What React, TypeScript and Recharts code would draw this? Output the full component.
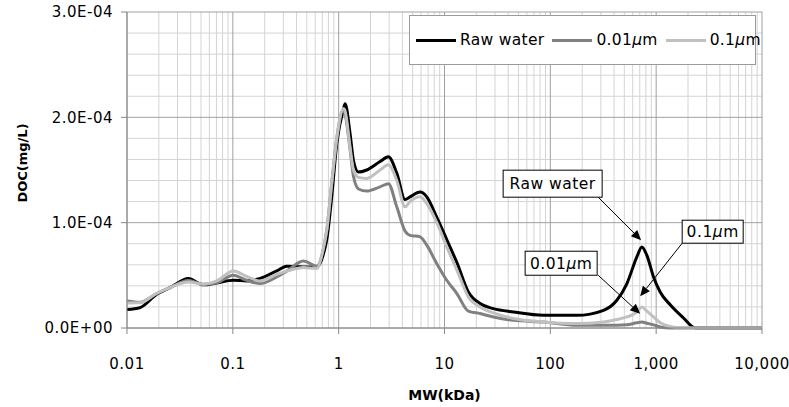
import React from "react";
import {
  LineChart,
  Line,
  XAxis,
  YAxis,
  CartesianGrid,
  Legend,
  ReferenceLine,
} from "recharts";

// Molecular weight (kDa) sample points
const mw = [
  0.01, 0.0133, 0.0191, 0.0255, 0.038, 0.0526, 0.0704, 0.101, 0.135, 0.181,
  0.26, 0.323, 0.464, 0.621, 0.717, 0.772, 0.861, 0.959, 1.11, 1.15, 1.28,
  1.38, 1.54, 1.84, 2.46, 2.95, 3.54, 4.24, 4.73, 5.88, 6.8, 8.46, 10.5, 13.1,
  16.8, 21.7, 29, 44.8, 86, 178, 318, 425, 528, 657, 733, 817, 944, 1091, 1357,
  1812, 2340, 3000, 5000, 10000,
];

// DOC (mg/L)
const rawWater = [
  1.75e-5, 1.94e-5, 3.2e-5, 3.84e-5, 4.7e-5, 4.1e-5, 4.28e-5, 4.53e-5, 4.47e-5,
  4.7e-5, 5.42e-5, 5.87e-5, 5.8e-5, 5.8e-5, 7.0e-5, 8.4e-5, 1.25e-4, 1.75e-4,
  2.08e-4, 2.13e-4, 1.85e-4, 1.59e-4, 1.48e-4, 1.5e-4, 1.58e-4, 1.625e-4,
  1.47e-4, 1.22e-4, 1.245e-4, 1.29e-4, 1.245e-4, 1.05e-4, 8.4e-5, 6.2e-5,
  3.42e-5, 2.32e-5, 1.84e-5, 1.52e-5, 1.2e-5, 1.2e-5, 1.68e-5, 2.63e-5, 4.2e-5,
  6.75e-5, 7.7e-5, 6.9e-5, 4.85e-5, 3.42e-5, 2.2e-5, 9.5e-6, 0, 0, 0, 0,
];

const filtered001 = [
  2.57e-5, 2.45e-5, 3.27e-5, 3.84e-5, 4.5e-5, 4.15e-5, 4.3e-5, 5.0e-5, 4.53e-5,
  4.22e-5, 4.85e-5, 5.4e-5, 6.37e-5, 5.87e-5, 7.5e-5, 9.3e-5, 1.38e-4, 1.8e-4,
  2.07e-4, 2.03e-4, 1.7e-4, 1.44e-4, 1.32e-4, 1.3e-4, 1.34e-4, 1.37e-4,
  1.15e-4, 9.2e-5, 8.8e-5, 8.65e-5, 7.86e-5, 6.1e-5, 4.53e-5, 3.27e-5, 1.6e-5,
  1.37e-5, 1.05e-5, 7.3e-6, 5.7e-6, 2.6e-6, 2.6e-6, 2.6e-6, 3.0e-6, 5.0e-6,
  5.7e-6, 4.5e-6, 3.0e-6, 1.0e-6, 0, 0, 0, 0, 0, 0,
];

const filtered01 = [
  2.38e-5, 2.4e-5, 3.3e-5, 3.84e-5, 4.37e-5, 4.15e-5, 4.47e-5, 5.42e-5, 4.9e-5,
  4.47e-5, 5.1e-5, 5.4e-5, 5.74e-5, 5.65e-5, 7.6e-5, 9.3e-5, 1.38e-4, 1.8e-4,
  2.085e-4, 2.06e-4, 1.72e-4, 1.5e-4, 1.43e-4, 1.42e-4, 1.5e-4, 1.55e-4,
  1.4e-4, 1.15e-4, 1.2e-4, 1.245e-4, 1.18e-4, 1.0e-4, 7.7e-5, 5.5e-5, 2.95e-5,
  2.0e-5, 1.43e-5, 9.0e-6, 5.7e-6, 4.2e-6, 5.7e-6, 8.0e-6, 1.05e-5, 1.5e-5,
  2.0e-5, 1.6e-5, 1.05e-5, 5.0e-6, 1.5e-6, 0, 0, 0, 0, 0,
];

const seriesNames = ["Raw water", "0.01μm", "0.1μm"];

const xTicks = [0.01, 0.1, 1, 10, 100, 1000, 10000];
const yTicks = [0, 1e-4, 2e-4, 3e-4];
const yMinor = [
  2e-5, 4e-5, 6e-5, 8e-5, 1.2e-4, 1.4e-4, 1.6e-4, 1.8e-4, 2.2e-4, 2.4e-4,
  2.6e-4, 2.8e-4,
];

// callouts: text, arrow tail (mw, doc), arrow head (mw, doc)
const calloutText = ["Raw water", "0.01μm", "0.1μm"];
const calloutTail = [
  [283, 1.242e-4],
  [283, 5.01e-5],
  [1761, 8.05e-5],
];
const calloutHead = [
  [721, 8.34e-5],
  [706, 1.35e-5],
  [706, 3.01e-5],
];

const data = mw.map((m, i) => ({
  mw: m,
  raw: rawWater[i],
  f001: filtered001[i],
  f01: filtered01[i],
}));

const xMinor: number[] = [];
for (const d of [0.01, 0.1, 1, 10, 100, 1000]) {
  for (let k = 2; k <= 9; k++) xMinor.push(Number((d * k).toPrecision(3)));
}

const FONT = "'DejaVu Sans', Verdana, sans-serif";

const sci = (v: number) => {
  if (v === 0) return "0.0E+00";
  const [m, e] = v.toExponential(1).split("e");
  const n = parseInt(e, 10);
  return `${m}E${n < 0 ? "-" : "+"}${String(Math.abs(n)).padStart(2, "0")}`;
};

const fmtX = (v: number) =>
  v >= 1000 ? v.toLocaleString("en-US") : String(v);

// renders "0.01μm" with an italic mu
const withMu = (s: string) => {
  const i = s.indexOf("μ");
  if (i < 0) return s;
  return (
    <>
      {s.slice(0, i)}
      <tspan fontStyle="italic">μ</tspan>
      {s.slice(i + 1)}
    </>
  );
};

const htmlMu = (s: string) => {
  const i = s.indexOf("μ");
  if (i < 0) return s;
  return (
    <>
      {s.slice(0, i)}
      <i>μ</i>
      {s.slice(i + 1)}
    </>
  );
};

const boxes = [
  { dx: -95, dy: -27, w: 99, h: 27 },
  { dx: -73, dy: -24, w: 72, h: 24 },
  { dx: 0, dy: -23, w: 61, h: 23 },
];

const makeCallout = (idx: number) => (props: any) => {
  const { x1, y1, x2, y2 } = props;
  const b = boxes[idx];
  const ang = Math.atan2(y2 - y1, x2 - x1);
  const len = 10;
  const half = 4.5;
  const bx = x2 - len * Math.cos(ang);
  const by = y2 - len * Math.sin(ang);
  const px = -Math.sin(ang) * half;
  const py = Math.cos(ang) * half;
  return (
    <g>
      <line x1={x1} y1={y1} x2={bx} y2={by} stroke="#000" strokeWidth={1} />
      <polygon
        points={`${x2},${y2} ${bx + px},${by + py} ${bx - px},${by - py}`}
        fill="#000"
      />
      <rect
        x={x1 + b.dx}
        y={y1 + b.dy}
        width={b.w}
        height={b.h}
        fill="#fff"
        stroke="#000"
        strokeWidth={1}
      />
      <text
        x={x1 + b.dx + b.w / 2}
        y={y1 + b.dy + b.h / 2 + 5.5}
        textAnchor="middle"
        fontFamily={FONT}
        fontSize={15.5}
        letterSpacing={0.5}
        fill="#000"
      >
        {withMu(calloutText[idx])}
      </text>
    </g>
  );
};

const LegendBox = ({ payload }: any) => {
  const items = [...(payload || [])].sort(
    (a: any, b: any) => seriesNames.indexOf(a.value) - seriesNames.indexOf(b.value)
  );
  return (
    <div
      style={{
        boxSizing: "border-box",
        width: "100%",
        height: "100%",
        border: "1px solid #9a9a9a",
        background: "#fff",
        display: "flex",
        alignItems: "center",
        paddingLeft: 6,
        fontFamily: FONT,
        fontSize: 15.5,
        letterSpacing: 0.3,
        color: "#000",
        whiteSpace: "nowrap",
      }}
    >
      {items.map((p: any) => (
        <span
          key={p.value}
          style={{ display: "flex", alignItems: "center", marginRight: 8 }}
        >
          <span
            style={{
              display: "inline-block",
              width: 40,
              height: 3,
              background: p.color,
              marginRight: 4,
            }}
          />
          {htmlMu(p.value)}
        </span>
      ))}
    </div>
  );
};

export default function App() {
  return (
    <div
      style={{
        position: "absolute",
        left: 0,
        top: 0,
        width: 789,
        height: 407,
        background: "#fff",
      }}
    >
      <LineChart
        width={789}
        height={407}
        data={data}
        margin={{ top: 12, right: 27, bottom: 0, left: 0 }}
      >
        <CartesianGrid
          stroke="#d4d4d4"
          strokeWidth={1}
          verticalValues={xMinor}
          horizontalValues={yMinor}
        />
        <CartesianGrid
          stroke="#a0a0a0"
          strokeWidth={1}
          verticalValues={xTicks}
          horizontalValues={yTicks}
        />
        <XAxis
          dataKey="mw"
          type="number"
          scale="log"
          domain={[0.01, 10000]}
          allowDataOverflow
          ticks={xTicks}
          interval={0}
          tickFormatter={fmtX}
          height={79}
          stroke="#868686"
          tickSize={6}
          tickMargin={24}
          tick={{ fill: "#000", fontSize: 15, fontFamily: FONT, letterSpacing: 0.5 }}
          label={({ viewBox }: any) => (
            <text
              x={viewBox.x + viewBox.width / 2}
              y={viewBox.y + 72}
              textAnchor="middle"
              fontFamily={FONT}
              fontWeight="bold"
              fontSize={14}
              fill="#000"
            >
              MW(kDa)
            </text>
          )}
        />
        <YAxis
          type="number"
          domain={[0, 3e-4]}
          ticks={yTicks}
          interval={0}
          tickFormatter={sci}
          width={127}
          stroke="#868686"
          tickSize={6}
          tickMargin={8}
          tick={{ fill: "#000", fontSize: 15, fontFamily: FONT, letterSpacing: 0.5 }}
          label={({ viewBox }: any) => (
            <text
              x={22}
              y={viewBox.y + viewBox.height / 2 - 7}
              textAnchor="middle"
              dominantBaseline="central"
              transform={`rotate(-90 22 ${viewBox.y + viewBox.height / 2 - 7})`}
              fontFamily={FONT}
              fontWeight="bold"
              fontSize={13}
              fill="#000"
            >
              DOC(mg/L)
            </text>
          )}
        />
        <Legend
          layout="horizontal"
          verticalAlign="middle"
          content={<LegendBox />}
          wrapperStyle={{ left: 409, top: 15, width: 347, height: 50 }}
        />
        <Line
          type="monotone"
          dataKey="raw"
          name={seriesNames[0]}
          stroke="#000000"
          strokeWidth={3}
          dot={false}
          isAnimationActive={false}
        />
        <Line
          type="monotone"
          dataKey="f001"
          name={seriesNames[1]}
          stroke="#808080"
          strokeWidth={3}
          dot={false}
          isAnimationActive={false}
        />
        <Line
          type="monotone"
          dataKey="f01"
          name={seriesNames[2]}
          stroke="#c0c0c0"
          strokeWidth={3}
          dot={false}
          isAnimationActive={false}
        />
        {calloutText.map((t, i) => (
          <ReferenceLine
            key={t}
            segment={[
              { x: calloutTail[i][0], y: calloutTail[i][1] },
              { x: calloutHead[i][0], y: calloutHead[i][1] },
            ]}
            shape={makeCallout(i)}
          />
        ))}
      </LineChart>
    </div>
  );
}
